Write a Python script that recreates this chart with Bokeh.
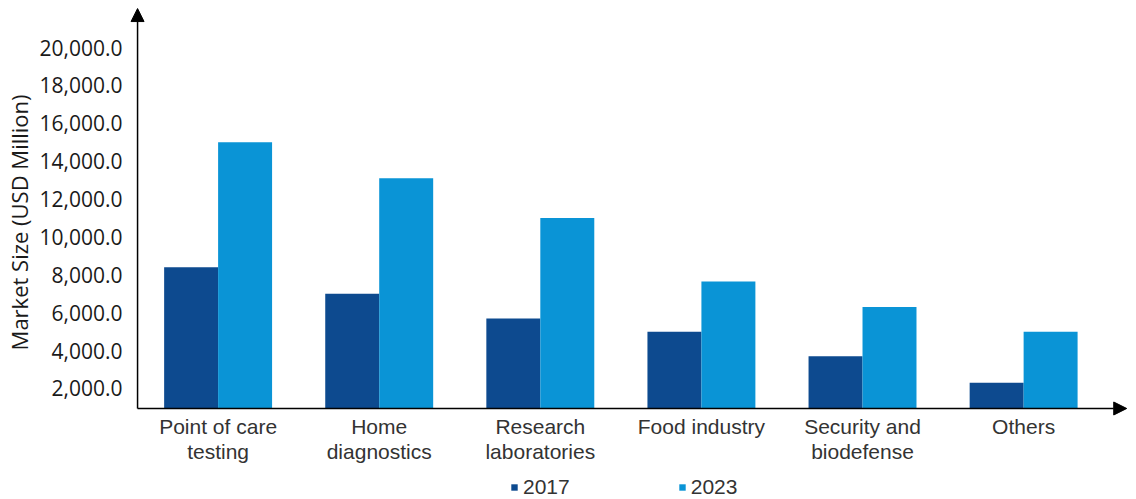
from bokeh.plotting import figure
from bokeh.models import (ColumnDataSource, Range1d, FixedTicker, Arrow, NormalHead,
                          Legend, LegendItem)
from bokeh.transform import dodge
from bokeh.embed import file_html
from bokeh.resources import INLINE

categories = ["Point of care\ntesting", "Home\ndiagnostics", "Research\nlaboratories",
              "Food industry", "Security and\nbiodefense", "Others"]
years = ["2017", "2023"]
values_2017 = [8400, 7000, 5700, 5000, 3700, 2300]
values_2023 = [15000, 13100, 11000, 7650, 6300, 5000]
y_ticks = [2000, 4000, 6000, 8000, 10000, 12000, 14000, 16000, 18000, 20000]

colors = ["#0D4A8F", "#0A94D6"]

idx = list(range(len(categories)))
src = ColumnDataSource(dict(idx=idx, v2017=values_2017, v2023=values_2023))

# axis base / arrow extents (data units)
Y_BASE, Y_TIP = 944, 22060
X_BASE, X_TIP = -0.5, 5.64

p = figure(frame_width=999, frame_height=497, output_backend="svg", toolbar_location=None,
           x_range=Range1d(-0.55, 5.651), y_range=Range1d(-3861, 22380),
           min_border_left=121, min_border_right=0, min_border_top=2, min_border_bottom=0)
p.outline_line_color = None
p.grid.grid_line_color = None
p.background_fill_color = "white"

r1 = p.vbar(x=dodge("idx", -0.1675, range=p.x_range), top="v2017", bottom=Y_BASE, width=0.335,
            source=src, fill_color=colors[0], line_color=None)
r2 = p.vbar(x=dodge("idx", 0.1675, range=p.x_range), top="v2023", bottom=Y_BASE, width=0.335,
            source=src, fill_color=colors[1], line_color=None)

# axes
p.xaxis.fixed_location = Y_BASE
p.xaxis.ticker = FixedTicker(ticks=idx)
p.xaxis.major_label_overrides = {i: c for i, c in zip(idx, categories)}
p.xaxis.major_label_text_font = "Liberation Sans"
p.xaxis.major_label_text_font_size = "21px"
p.xaxis.major_label_text_line_height = 1.05
p.xaxis.major_label_text_color = "#333333"
p.xaxis.major_label_standoff = 7
p.xaxis.major_tick_out = 0
p.xaxis.major_tick_in = 0
p.xaxis.axis_line_color = None
p.xaxis.major_tick_line_color = None
p.xaxis.minor_tick_line_color = None

p.yaxis.ticker = FixedTicker(ticks=y_ticks)
p.yaxis.formatter.use_scientific = False
p.yaxis.major_label_overrides = {t: f"{t:,.1f}" for t in y_ticks}
p.yaxis.major_label_text_font = "Open Sans"
p.yaxis.major_label_text_font_size = "21px"
p.yaxis.major_label_text_color = "#1a1a1a"
p.yaxis.major_label_standoff = 7
p.yaxis.major_tick_out = 0
p.yaxis.major_tick_in = 0
p.yaxis.axis_label = "\u00a0" * 10 + "Market Size (USD Million)"
p.yaxis.axis_label_text_font = "Open Sans"
p.yaxis.axis_label_text_font_style = "normal"
p.yaxis.axis_label_text_font_size = "22px"
p.yaxis.axis_label_text_color = "#1a1a1a"
p.yaxis.axis_label_standoff = 3
p.yaxis.axis_line_color = None
p.yaxis.major_tick_line_color = None
p.yaxis.minor_tick_line_color = None

# arrowed axes
p.add_layout(Arrow(end=NormalHead(size=13, fill_color="black", line_color="black"),
                   x_start=X_BASE, y_start=Y_BASE, x_end=X_TIP, y_end=Y_BASE,
                   line_color="black", line_width=1.5))
p.add_layout(Arrow(end=NormalHead(size=13, fill_color="black", line_color="black"),
                   x_start=X_BASE, y_start=Y_BASE, x_end=X_BASE, y_end=Y_TIP,
                   line_color="black", line_width=1.5))

legend = Legend(items=[LegendItem(label=years[0], renderers=[r1]),
                       LegendItem(label=years[1], renderers=[r2])],
                orientation="horizontal", location=(381, 0),
                glyph_width=8, glyph_height=8, label_standoff=5, spacing=108,
                label_text_font="Liberation Sans", label_text_font_size="21px",
                label_text_color="#333333", padding=0, margin=0,
                border_line_color=None, background_fill_alpha=0)
p.add_layout(legend)

open("out.html", "w").write(file_html(p, INLINE))
